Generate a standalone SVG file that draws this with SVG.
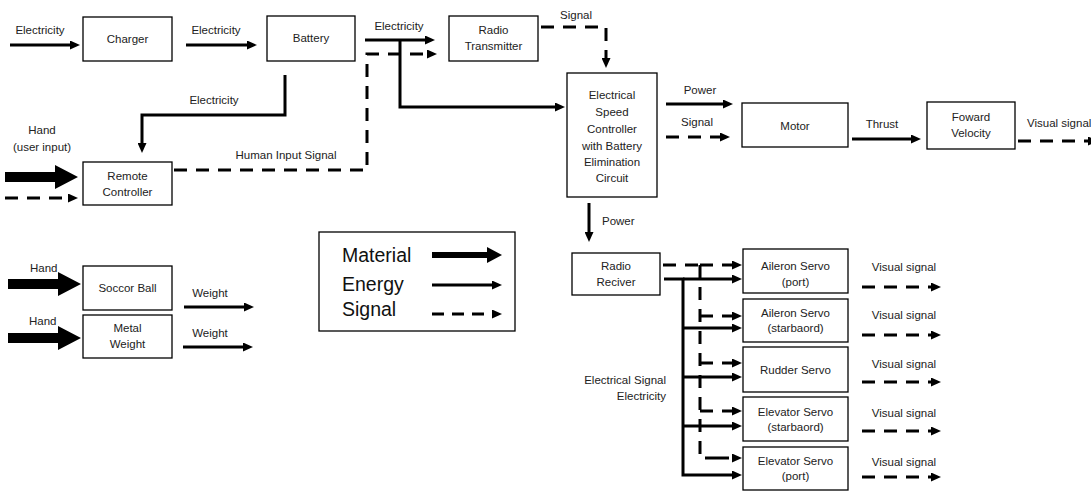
<svg xmlns="http://www.w3.org/2000/svg" xmlns:xlink="http://www.w3.org/1999/xlink" width="1091" height="491" viewBox="0 0 1091 491">
<style>
.box{fill:#fff;stroke:#000;stroke-width:1.3}
.t{font-family:"Liberation Sans",Arial,sans-serif;font-size:11.5px;fill:#222;text-anchor:middle}
.ts{font-family:"Liberation Sans",Arial,sans-serif;font-size:11.5px;fill:#222}
.lg{font-family:"Liberation Sans",Arial,sans-serif;font-size:19.5px;fill:#111}
.e{fill:none;stroke:#000;stroke-width:3;marker-end:url(#ah)}
.en{fill:none;stroke:#000;stroke-width:3}
.s{fill:none;stroke:#000;stroke-width:3;stroke-dasharray:13 9;marker-end:url(#ah)}
.sn{fill:none;stroke:#000;stroke-width:3;stroke-dasharray:13 9}
</style>
<defs>
<marker id="ah" viewBox="0 0 10 10" refX="2" refY="5" markerWidth="10" markerHeight="9" markerUnits="userSpaceOnUse" orient="auto" preserveAspectRatio="none"><path d="M0,0 L10,5 L0,10 Z" fill="#000"/></marker>
<path id="mat" d="M0,-5 H50 V-12 L73,0 L50,12 V5 H0 Z" fill="#000"/>
</defs>
<rect width="1091" height="491" fill="#fff"/>

<g id="connectors">
<path class="e" d="M10,45 H72"/>
<text class="t" x="40" y="34">Electricity</text>
<path class="e" d="M186,45 H249"/>
<text class="t" x="216" y="34">Electricity</text>
<path class="e" d="M365,40 H427"/>
<text class="t" x="399" y="30">Electricity</text>
<path class="s" d="M174,170 H367 V54 H429"/>
<text class="t" x="286" y="159">Human Input Signal</text>
<path class="e" d="M400,40 V107 H557"/>
<path class="e" d="M285,75 V115 H142 V145"/>
<text class="t" x="214" y="104">Electricity</text>
<path class="s" d="M541,27 H606 V60"/>
<text class="t" x="576" y="19">Signal</text>
<path class="e" d="M666,104 H725"/>
<text class="t" x="700" y="94">Power</text>
<path class="s" d="M666,137 H722"/>
<text class="t" x="697" y="126">Signal</text>
<path class="e" d="M852,139 H913"/>
<text class="t" x="882" y="128">Thrust</text>
<path class="s" d="M1018,141 H1090"/>
<text class="ts" x="1027" y="127">Visual signal</text>
<text class="t" x="42" y="134">Hand</text>
<text class="t" x="42" y="151">(user input)</text>
<use xlink:href="#mat" x="5" y="177"/>
<path class="s" d="M5,198 H70"/>
<text class="ts" x="30" y="272">Hand</text>
<use xlink:href="#mat" x="8" y="284"/>
<text class="ts" x="29" y="325">Hand</text>
<use xlink:href="#mat" x="8" y="338"/>
<path class="e" d="M184,307 H246"/>
<text class="t" x="210" y="297">Weight</text>
<path class="e" d="M183,347 H245"/>
<text class="t" x="210" y="337">Weight</text>
<path class="e" d="M589,203 V234"/>
<text class="ts" x="602" y="225">Power</text>
<path class="sn" d="M663,265 H700"/>
<path class="s" d="M700,265 H734"/>
<path class="sn" d="M700,265 V458 H716"/>
<path class="en" d="M664,279 H683 V475 H700"/>
<path class="e" d="M683,279 H734"/>
<path class="s" d="M700,316 H734"/>
<path class="e" d="M683,328 H734"/>
<path class="s" d="M700,363 H734"/>
<path class="e" d="M683,377 H734"/>
<path class="s" d="M700,411 H734"/>
<path class="e" d="M683,426 H734"/>
<path class="s" d="M716,458 H734"/>
<path class="e" d="M700,475 H734"/>
<text class="t" x="666" y="384" style="text-anchor:end">Electrical Signal</text>
<text class="t" x="666" y="400" style="text-anchor:end">Electricity</text>
<path class="s" d="M862,287 H933"/>
<text class="t" x="904" y="271">Visual signal</text>
<path class="s" d="M862,335 H933"/>
<text class="t" x="904" y="319">Visual signal</text>
<path class="s" d="M862,382 H933"/>
<text class="t" x="904" y="368">Visual signal</text>
<path class="s" d="M862,431 H933"/>
<text class="t" x="904" y="417">Visual signal</text>
<path class="s" d="M862,477 H933"/>
<text class="t" x="904" y="466">Visual signal</text>
</g>

<g id="charger"><rect class="box" x="83" y="17" width="89" height="44"/><text class="t" x="127.5" y="43">Charger</text></g>
<g id="battery"><rect class="box" x="267" y="16" width="88" height="45"/><text class="t" x="311" y="42">Battery</text></g>
<g id="radio-transmitter"><rect class="box" x="449" y="16" width="89" height="45"/><text class="t" x="493.5" y="34">Radio</text><text class="t" x="493.5" y="50">Transmitter</text></g>
<g id="remote-controller"><rect class="box" x="83" y="162" width="89" height="43"/><text class="t" x="127.5" y="180">Remote</text><text class="t" x="127.5" y="196">Controller</text></g>
<g id="esc"><rect class="box" x="567" y="73" width="90" height="124"/>
<text class="t" x="612" y="99">Electrical</text><text class="t" x="612" y="116">Speed</text><text class="t" x="612" y="133">Controller</text><text class="t" x="612" y="150">with Battery</text><text class="t" x="612" y="166">Elimination</text><text class="t" x="612" y="182">Circuit</text></g>
<g id="motor"><rect class="box" x="742" y="103" width="106" height="44"/><text class="t" x="795" y="130">Motor</text></g>
<g id="forward-velocity"><rect class="box" x="927" y="102" width="88" height="47"/><text class="t" x="971" y="121">Foward</text><text class="t" x="971" y="137">Velocity</text></g>
<g id="soccer-ball"><rect class="box" x="83" y="266" width="89" height="44"/><text class="t" x="127.5" y="292">Soccor Ball</text></g>
<g id="metal-weight"><rect class="box" x="83" y="315" width="89" height="43"/><text class="t" x="127.5" y="332">Metal</text><text class="t" x="127.5" y="348">Weight</text></g>
<g id="legend"><rect class="box" x="319" y="232" width="196" height="99"/>
<text class="lg" x="342" y="262">Material</text><text class="lg" x="342" y="291">Energy</text><text class="lg" x="342" y="316">Signal</text>
<path d="M432,252 H487 V247 L502,255 L487,263 V258 H432 Z" fill="#000"/>
<path class="e" d="M432,285 H494"/>
<path class="s" d="M432,314 H494" style="stroke-dasharray:12 8"/>
</g>
<g id="radio-receiver"><rect class="box" x="572" y="253" width="88" height="42"/><text class="t" x="616" y="270">Radio</text><text class="t" x="616" y="286">Reciver</text></g>
<g id="aileron-port"><rect class="box" x="743" y="249" width="105" height="44"/><text class="t" x="795.5" y="270">Aileron Servo</text><text class="t" x="795.5" y="286">(port)</text></g>
<g id="aileron-starboard"><rect class="box" x="743" y="299" width="105" height="43"/><text class="t" x="795.5" y="317">Aileron Servo</text><text class="t" x="795.5" y="332">(starbaord)</text></g>
<g id="rudder"><rect class="box" x="743" y="347" width="105" height="45"/><text class="t" x="795.5" y="374">Rudder Servo</text></g>
<g id="elevator-starboard"><rect class="box" x="743" y="397" width="105" height="44"/><text class="t" x="795.5" y="416">Elevator Servo</text><text class="t" x="795.5" y="431">(starbaord)</text></g>
<g id="elevator-port"><rect class="box" x="743" y="447" width="105" height="43"/><text class="t" x="795.5" y="465">Elevator Servo</text><text class="t" x="795.5" y="480">(port)</text></g>
</svg>
